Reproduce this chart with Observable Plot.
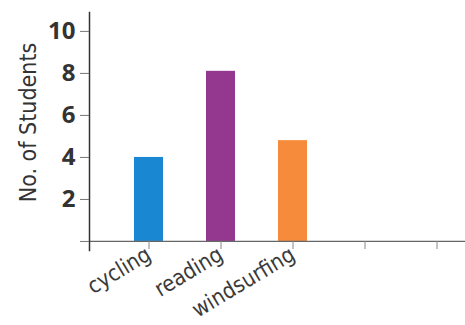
<!DOCTYPE html>
<html>
<head>
<meta charset="utf-8">
<script src="https://cdn.jsdelivr.net/npm/d3@7"></script>
<script src="https://cdn.jsdelivr.net/npm/@observablehq/plot@0.6"></script>
<style>
  html, body { margin: 0; padding: 0; background: #fff; }
  #chart svg { display: block; }
</style>
</head>
<body>
<div id="chart"></div>
<script>
const categories = ["cycling", "reading", "windsurfing", " ", "  "];
const activities = ["cycling", "reading", "windsurfing"];
const students = [4, 8.1, 4.8];
const colors = ["#1a87d2", "#93378f", "#f68c3b"];
const yTicks = [0, 2, 4, 6, 8, 10];
const yLabel = "No. of Students";

const data = activities.map((a, i) => ({activity: a, value: students[i], color: colors[i]}));
const condensed = "'DejaVu Sans'";

const chart = Plot.plot({
  width: 465,
  height: 325,
  marginLeft: 89,
  marginRight: 0,
  marginTop: 12,
  marginBottom: 75,
  x: {domain: categories, range: [89, 495], padding: 0.6},
  y: {domain: [-0.43, 10.9]},
  marks: [
    Plot.barY(data, {x: "activity", y: "value", fill: "color"}),
    Plot.ruleY([0], {stroke: "#666", strokeWidth: 1.3}),
    Plot.frame({anchor: "left", stroke: "#333", strokeWidth: 1.5}),
    Plot.axisY({
      ticks: yTicks,
      tickSize: 9,
      tickPadding: 5,
      tickFormat: d => d === 0 ? "" : String(d),
      stroke: "#777",
      fontSize: 24,
      fontWeight: "bold",
      fontFamily: "'Open Sans', sans-serif",
      fill: "#333",
      label: null
    }),
    Plot.axisX({
      tickSize: 8,
      dy: -9,
      tickPadding: 3,
      tickRotate: -31,
      stroke: "#888",
      fontSize: 22,
      fontFamily: condensed,
      fill: "#3a3a3a",
      label: null
    }),
    Plot.text([yLabel], {
      frameAnchor: "left",
      textAnchor: "middle",
      dx: -61,
      dy: -9,
      rotate: -90,
      fontSize: 23,
      fontFamily: condensed,
      fill: "#333",
      text: d => d
    })
  ]
});
d3.select(chart).selectAll("[font-family=\"'DejaVu Sans'\"]").style("font-stretch", "condensed");
document.getElementById("chart").appendChild(chart);
</script>
</body>
</html>
